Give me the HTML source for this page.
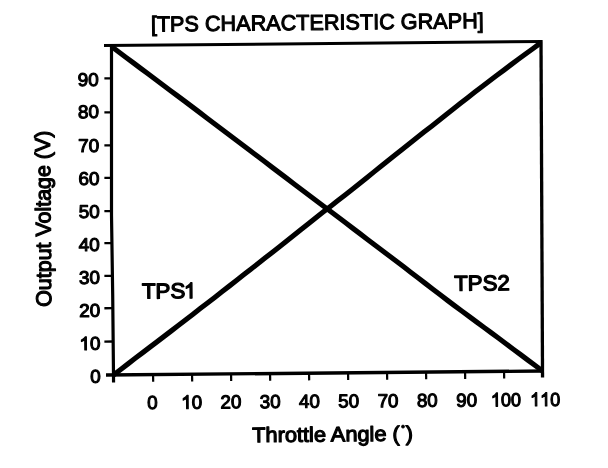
<!DOCTYPE html>
<html><head><meta charset="utf-8"><title>TPS Characteristic Graph</title>
<style>
html,body{margin:0;padding:0;background:#fff;}
body{width:608px;height:468px;overflow:hidden;font-family:"Liberation Sans",sans-serif;}
svg text{font-family:"Liberation Sans",sans-serif;}
</style></head><body>
<svg width="608" height="468" viewBox="0 0 608 468" style="display:block;filter:grayscale(1)">
<rect width="608" height="468" fill="#fff"/>
<g stroke="#000" fill="none" stroke-linecap="butt">
<line x1="104" y1="45.57" x2="541.8" y2="41.5" stroke-width="3"/>
<line x1="106" y1="375.07" x2="543" y2="371.0" stroke-width="3.4"/>
<polyline points="111.5,44 111.5,215 112.7,295 113.5,375 113.55,382.5" stroke-width="3.2" stroke-linejoin="round"/>
<line x1="541.0" y1="40" x2="542.53" y2="377.5" stroke-width="3.3"/>
<polyline points="113.5,375.00 120.7,369.45 128.0,363.89 135.2,358.34 142.4,352.85 149.6,347.35 156.9,341.86 164.1,336.37 171.3,330.87 178.6,325.33 185.8,319.75 193.0,314.17 200.2,308.58 207.5,303.00 214.7,297.41 221.9,291.76 229.2,286.11 236.4,280.46 243.6,274.80 250.8,269.15 258.1,263.49 265.3,257.84 272.5,252.19 279.8,246.53 287.0,240.79 294.2,235.05 301.4,229.31 308.7,223.56 315.9,217.82 323.1,212.08 330.4,206.39 337.6,200.77 344.8,195.15 352.1,189.53 359.3,183.73 366.5,177.93 373.7,172.12 381.0,166.32 388.2,160.52 395.4,154.72 402.7,148.96 409.9,143.25 417.1,137.55 424.3,131.85 431.6,126.14 438.8,120.44 446.0,114.74 453.3,109.04 460.5,103.33 467.7,97.63 474.9,92.07 482.2,86.58 489.4,81.08 496.6,75.59 503.9,70.09 511.1,64.63 518.3,59.32 525.5,54.01 532.8,48.71 540.0,43.40" stroke-width="5.1" stroke-linejoin="round"/>
<polyline points="111.5,46.50 118.8,51.96 126.1,57.42 133.4,62.88 140.7,68.34 148.0,73.80 155.3,79.26 162.6,84.72 169.9,90.18 177.2,95.64 184.6,101.10 191.9,106.62 199.2,112.14 206.5,117.66 213.8,123.18 221.1,128.70 228.4,134.22 235.7,139.74 243.0,145.27 250.3,150.79 257.6,156.31 264.9,161.83 272.2,167.35 279.5,172.87 286.8,178.39 294.1,183.91 301.4,189.43 308.7,194.95 316.0,200.47 323.3,205.99 330.7,211.52 338.0,217.05 345.3,222.58 352.6,228.11 359.9,233.64 367.2,239.17 374.5,244.70 381.8,250.23 389.1,255.76 396.4,261.29 403.7,266.84 411.0,272.43 418.3,278.02 425.6,283.61 432.9,289.20 440.2,294.78 447.5,300.37 454.8,305.84 462.1,311.25 469.4,316.67 476.8,322.08 484.1,327.49 491.4,332.90 498.7,338.32 506.0,343.76 513.3,349.21 520.6,354.65 527.9,360.10 535.2,365.55 542.5,371.00" stroke-width="5.1" stroke-linejoin="round"/>
<line x1="104.4" y1="341.56" x2="113.30" y2="341.50" stroke-width="2.3"/>
<line x1="104.4" y1="308.26" x2="113.10" y2="308.20" stroke-width="2.3"/>
<line x1="104.4" y1="275.86" x2="112.90" y2="275.80" stroke-width="2.3"/>
<line x1="104.4" y1="243.16" x2="112.70" y2="243.10" stroke-width="2.3"/>
<line x1="104.4" y1="211.16" x2="112.50" y2="211.10" stroke-width="2.3"/>
<line x1="104.4" y1="177.96" x2="112.30" y2="177.90" stroke-width="2.3"/>
<line x1="104.4" y1="145.46" x2="112.10" y2="145.40" stroke-width="2.3"/>
<line x1="104.4" y1="112.46" x2="111.90" y2="112.40" stroke-width="2.3"/>
<line x1="104.4" y1="78.36" x2="111.70" y2="78.30" stroke-width="2.3"/>
<line x1="153.10" y1="374.64" x2="153.15" y2="381.84" stroke-width="2.2"/>
<line x1="192.10" y1="374.27" x2="192.15" y2="381.47" stroke-width="2.2"/>
<line x1="231.10" y1="373.91" x2="231.15" y2="381.11" stroke-width="2.2"/>
<line x1="270.10" y1="373.55" x2="270.15" y2="380.75" stroke-width="2.2"/>
<line x1="309.10" y1="373.18" x2="309.15" y2="380.38" stroke-width="2.2"/>
<line x1="348.10" y1="372.82" x2="348.15" y2="380.02" stroke-width="2.2"/>
<line x1="387.10" y1="372.45" x2="387.15" y2="379.65" stroke-width="2.2"/>
<line x1="426.10" y1="372.09" x2="426.15" y2="379.29" stroke-width="2.2"/>
<line x1="465.10" y1="371.73" x2="465.15" y2="378.93" stroke-width="2.2"/>
<line x1="504.10" y1="371.36" x2="504.15" y2="378.56" stroke-width="2.2"/>
</g>
<g font-family="Liberation Sans, sans-serif" fill="#000" stroke="#000" stroke-linejoin="round">
<g transform="translate(100.70 382.75) rotate(-0.5) scale(1.03 1)"><text x="-10.23" y="0" font-size="18.4" stroke-width="1.1">0</text></g>
<g transform="translate(100.50 349.76) rotate(-0.5) scale(1.03 1)"><path transform="translate(-20.47 0) scale(0.00898 -0.00898)" d="M765 0H585V1150Q520 1085 415 1023T225 930V1105Q375 1175 485 1275T645 1466H765Z" stroke-width="122.4"/><text x="-10.23" y="0" font-size="18.4" stroke-width="1.1">0</text></g>
<g transform="translate(100.30 316.77) rotate(-0.5) scale(1.03 1)"><text x="-20.47" y="0" font-size="18.4" stroke-width="1.1">20</text></g>
<g transform="translate(100.10 283.78) rotate(-0.5) scale(1.03 1)"><text x="-20.47" y="0" font-size="18.4" stroke-width="1.1">30</text></g>
<g transform="translate(99.90 250.79) rotate(-0.5) scale(1.03 1)"><text x="-20.47" y="0" font-size="18.4" stroke-width="1.1">40</text></g>
<g transform="translate(99.70 217.80) rotate(-0.5) scale(1.03 1)"><text x="-20.47" y="0" font-size="18.4" stroke-width="1.1">50</text></g>
<g transform="translate(99.50 184.81) rotate(-0.5) scale(1.03 1)"><text x="-20.47" y="0" font-size="18.4" stroke-width="1.1">60</text></g>
<g transform="translate(99.30 151.82) rotate(-0.5) scale(1.03 1)"><text x="-20.47" y="0" font-size="18.4" stroke-width="1.1">70</text></g>
<g transform="translate(99.10 118.03) rotate(-0.5) scale(1.03 1)"><text x="-20.47" y="0" font-size="18.4" stroke-width="1.1">80</text></g>
<g transform="translate(98.90 85.84) rotate(-0.5) scale(1.03 1)"><text x="-20.47" y="0" font-size="18.4" stroke-width="1.1">90</text></g>
<g transform="translate(152.40 408.95) rotate(-0.5) scale(1.0 1)"><text x="-5.23" y="0" font-size="18.8" stroke-width="1.1">0</text></g>
<g transform="translate(191.68 408.65) rotate(-0.5) scale(1.0 1)"><path transform="translate(-10.46 0) scale(0.00918 -0.00918)" d="M765 0H585V1150Q520 1085 415 1023T225 930V1105Q375 1175 485 1275T645 1466H765Z" stroke-width="119.8"/><text x="0.00" y="0" font-size="18.8" stroke-width="1.1">0</text></g>
<g transform="translate(230.96 408.35) rotate(-0.5) scale(1.0 1)"><text x="-10.46" y="0" font-size="18.8" stroke-width="1.1">20</text></g>
<g transform="translate(270.24 408.05) rotate(-0.5) scale(1.0 1)"><text x="-10.46" y="0" font-size="18.8" stroke-width="1.1">30</text></g>
<g transform="translate(309.52 407.76) rotate(-0.5) scale(1.0 1)"><text x="-10.46" y="0" font-size="18.8" stroke-width="1.1">40</text></g>
<g transform="translate(348.80 407.46) rotate(-0.5) scale(1.0 1)"><text x="-10.46" y="0" font-size="18.8" stroke-width="1.1">50</text></g>
<g transform="translate(388.08 407.16) rotate(-0.5) scale(1.0 1)"><text x="-10.46" y="0" font-size="18.8" stroke-width="1.1">70</text></g>
<g transform="translate(427.36 406.86) rotate(-0.5) scale(1.0 1)"><text x="-10.46" y="0" font-size="18.8" stroke-width="1.1">80</text></g>
<g transform="translate(466.64 406.56) rotate(-0.5) scale(1.0 1)"><text x="-10.46" y="0" font-size="18.8" stroke-width="1.1">90</text></g>
<g transform="translate(505.92 406.26) rotate(-0.5) scale(0.96 1)"><path transform="translate(-15.68 0) scale(0.00918 -0.00918)" d="M765 0H585V1150Q520 1085 415 1023T225 930V1105Q375 1175 485 1275T645 1466H765Z" stroke-width="119.8"/><text x="-5.23" y="0" font-size="18.8" stroke-width="1.1">00</text></g>
<g transform="translate(545.20 405.96) rotate(-0.5) scale(0.96 1)"><path transform="translate(-15.68 0) scale(0.00918 -0.00918)" d="M765 0H585V1150Q520 1085 415 1023T225 930V1105Q375 1175 485 1275T645 1466H765Z" stroke-width="119.8"/><path transform="translate(-5.23 0) scale(0.00918 -0.00918)" d="M765 0H585V1150Q520 1085 415 1023T225 930V1105Q375 1175 485 1275T645 1466H765Z" stroke-width="119.8"/><text x="5.23" y="0" font-size="18.8" stroke-width="1.1">0</text></g>
<text transform="translate(150.90 31.60) rotate(-0.6) scale(1.002 1)" font-size="21.6" text-anchor="start" stroke-width="1.05">[TPS CHARACTERISTIC GRAPH]</text>
<text transform="translate(252.30 442.20) rotate(-0.52) scale(1.036 1)" font-size="21" text-anchor="start" stroke-width="1.2">Throttle Angle ( )</text>
<circle cx="403.0" cy="426.6" r="1.5" stroke-width="0.8"/>
<text transform="translate(51.20 306.80) rotate(-90.4) scale(0.997 1)" font-size="21.5" text-anchor="start" stroke-width="1.2">Output Voltage (V)</text>
<text transform="translate(141.90 298.60) rotate(-0.5) scale(1.04 1)" font-size="21.5" text-anchor="start" stroke-width="1.3">TPS</text>
<g transform="translate(184.00 298.20) rotate(-0.5) scale(1.0 1)"><path transform="translate(0.00 0) scale(0.01050 -0.01050)" d="M765 0H585V1150Q520 1085 415 1023T225 930V1105Q375 1175 485 1275T645 1466H765Z" stroke-width="123.8"/></g>
<text transform="translate(454.30 290.70) rotate(-0.5) scale(1.032 1)" font-size="21.5" text-anchor="start" stroke-width="1.3">TPS2</text>
</g>
</svg>
</body></html>
